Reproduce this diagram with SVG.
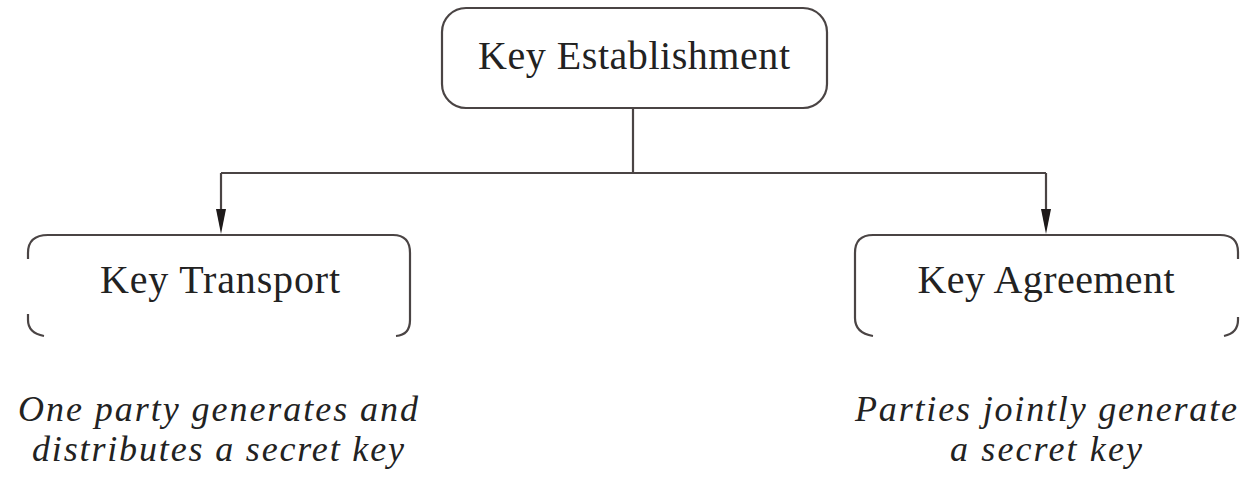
<svg xmlns="http://www.w3.org/2000/svg" width="1249" height="481" viewBox="0 0 1249 481">
<defs>
<style>
.box{fill:none;stroke:#4a4444;stroke-width:2.2}
.conn{fill:none;stroke:#4a4444;stroke-width:2.2}
.lbl{font-family:"Liberation Serif","Times New Roman",serif;font-size:40px;fill:#222;text-anchor:middle}
.desc{font-family:"Liberation Serif","Times New Roman",serif;font-size:36px;font-style:italic;fill:#222;text-anchor:middle}
</style>
</defs>
<g id="connectors">
<path class="conn" d="M633,108 V173"/>
<path class="conn" d="M221,173 H1046"/>
<path class="conn" d="M221,173 V209"/>
<path class="conn" d="M1046,173 V209"/>
<path d="M216,209 L226,209 L221,234 Z" fill="#1e1a1a"/>
<path d="M1041,209 L1051,209 L1046,234 Z" fill="#1e1a1a"/>
</g>
<g id="key-establishment">
<rect class="box" x="442" y="8" width="385" height="100" rx="24"/>
<text class="lbl" x="634" y="69" textLength="312" lengthAdjust="spacing">Key Establishment</text>
</g>
<g id="key-transport">
<path class="box" d="M28,259 V253 Q28,235 48,235 H393 Q410,235 410,253 V320 Q410,335 396,336"/>
<path class="box" d="M28,314 V320 Q28,333 44,336"/>
<text class="lbl" x="220" y="293" textLength="240" lengthAdjust="spacing">Key Transport</text>
</g>
<g id="key-agreement">
<path class="box" d="M873,336 Q855,333 855,318 V253 Q855,235 873,235 H1220 Q1238,235 1238,252 V259"/>
<path class="box" d="M1238,317 V320 Q1238,333 1224,336"/>
<text class="lbl" x="1046" y="293" textLength="257" lengthAdjust="spacing">Key Agreement</text>
</g>
<g id="transport-desc">
<text class="desc" x="218" y="421" textLength="400" lengthAdjust="spacing">One party generates and</text>
<text class="desc" x="218" y="461" textLength="372" lengthAdjust="spacing">distributes a secret key</text>
</g>
<g id="agreement-desc">
<text class="desc" x="1046" y="421" textLength="382" lengthAdjust="spacing">Parties jointly generate</text>
<text class="desc" x="1046" y="461" textLength="192" lengthAdjust="spacing">a secret key</text>
</g>
</svg>
